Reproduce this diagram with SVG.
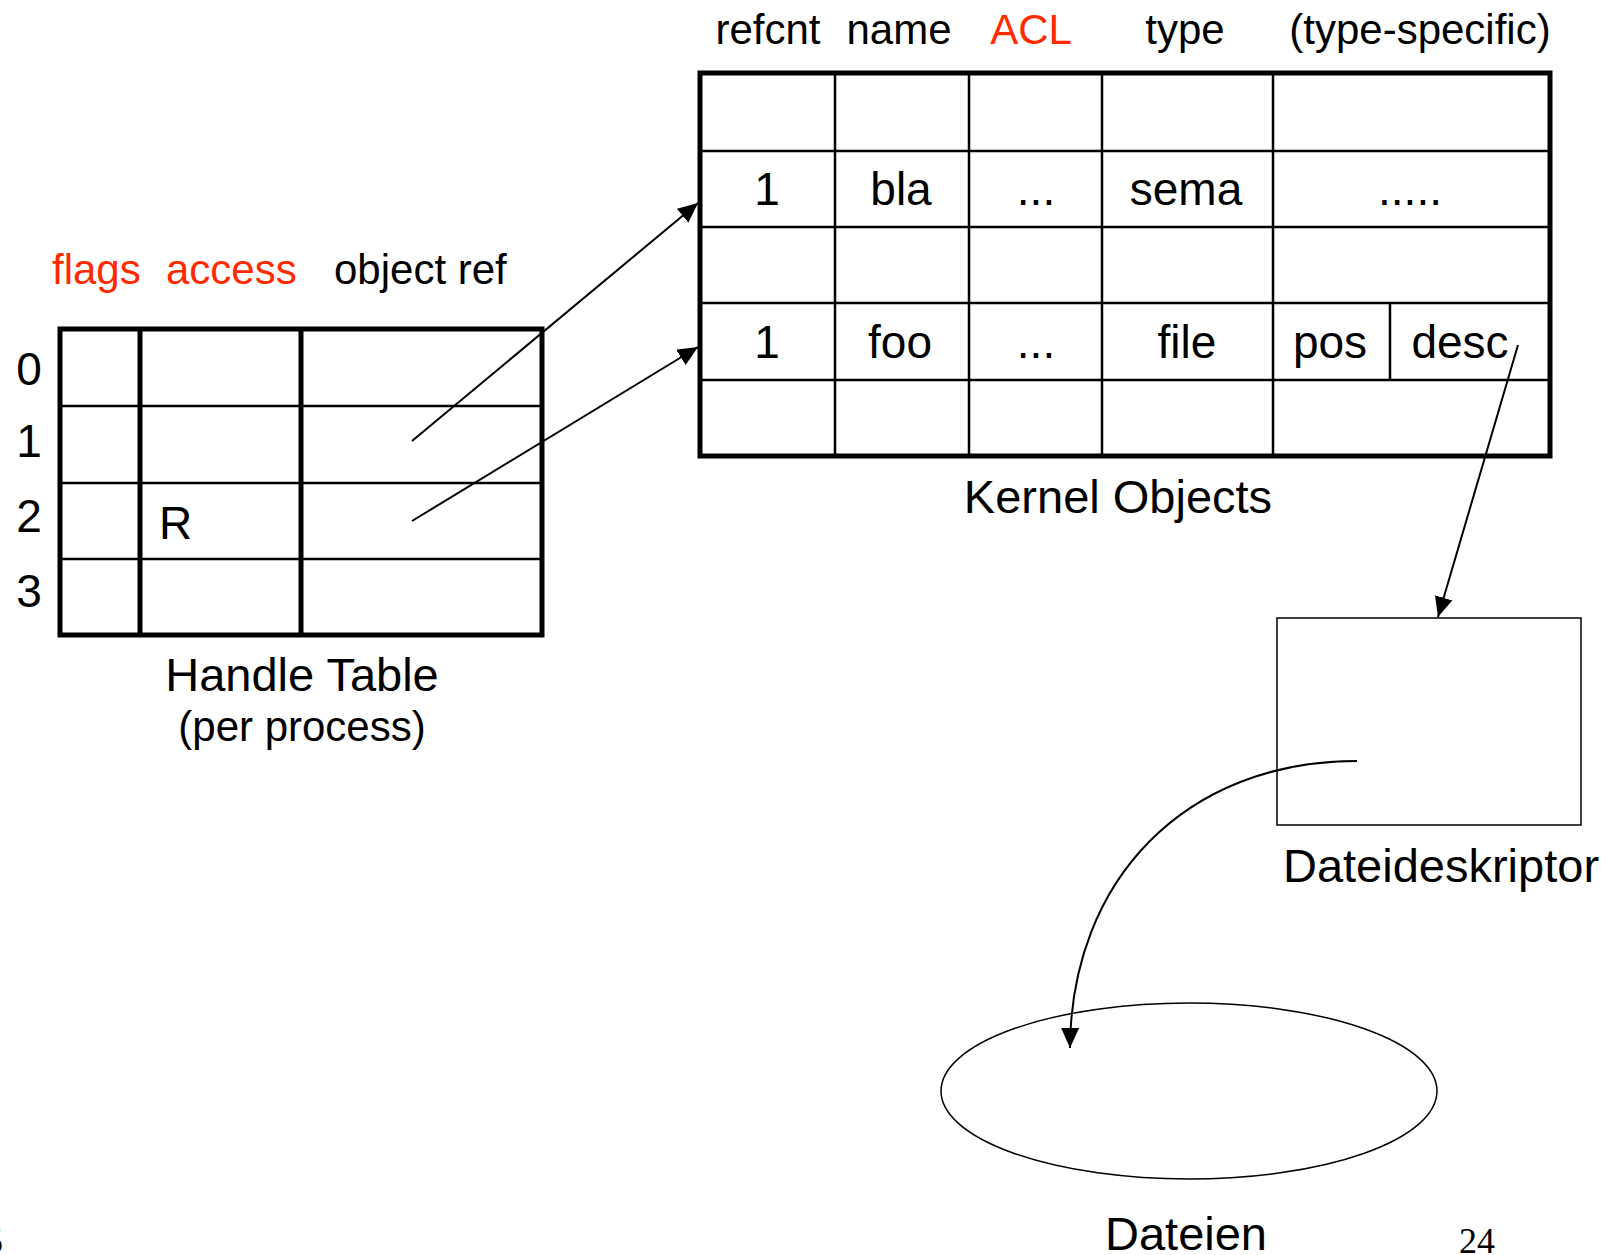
<svg xmlns="http://www.w3.org/2000/svg" width="1617" height="1255" viewBox="0 0 1617 1255">
<style>
text{font-family:"Liberation Sans",Arial,sans-serif;fill:#000}
.red{fill:#ff2a00}
.hdr{font-size:42px}
.cell{font-size:46px}
.lbl{font-size:47px}
.mid{text-anchor:middle}
.outer{fill:none;stroke:#000;stroke-width:5}
.thick{stroke:#000;stroke-width:5}
.thin{stroke:#000;stroke-width:2.5}
.conn{fill:none;stroke:#000;stroke-width:2}
.serif{font-family:"Liberation Serif","Times New Roman",serif;font-size:36px}
</style>
<defs>
<marker id="ah" viewBox="0 0 20 18" refX="20" refY="9" markerWidth="20" markerHeight="18" markerUnits="userSpaceOnUse" orient="auto">
<path d="M0,0 L20,9 L0,18 z" fill="#000"/>
</marker>
</defs>
<rect width="1617" height="1255" fill="#fff"/>

<g id="handle-table">
<text class="hdr red" x="52" y="284">flags</text>
<text class="hdr red" x="166" y="284">access</text>
<text class="hdr" x="334" y="284">object ref</text>
<line class="thin" x1="60" y1="406" x2="542" y2="406"/>
<line class="thin" x1="60" y1="483" x2="542" y2="483"/>
<line class="thin" x1="60" y1="559" x2="542" y2="559"/>
<line class="thick" x1="140" y1="329" x2="140" y2="635"/>
<line class="thick" x1="301" y1="329" x2="301" y2="635"/>
<rect class="outer" x="60" y="329" width="482" height="306"/>
<text class="cell mid" x="29" y="385">0</text>
<text class="cell mid" x="29" y="457">1</text>
<text class="cell mid" x="29" y="532">2</text>
<text class="cell mid" x="29" y="607">3</text>
<text class="cell" x="159" y="539">R</text>
<text class="lbl mid" x="302" y="691">Handle Table</text>
<text class="hdr mid" x="302" y="741">(per process)</text>
</g>

<g id="kernel-objects">
<text class="hdr mid" x="768" y="44">refcnt</text>
<text class="hdr mid" x="899" y="44">name</text>
<text class="hdr mid red" x="1031" y="44">ACL</text>
<text class="hdr mid" x="1185" y="44">type</text>
<text class="hdr mid" x="1420" y="44">(type-specific)</text>
<line class="thin" x1="700" y1="151" x2="1550" y2="151"/>
<line class="thin" x1="700" y1="227" x2="1550" y2="227"/>
<line class="thin" x1="700" y1="303" x2="1550" y2="303"/>
<line class="thin" x1="700" y1="380" x2="1550" y2="380"/>
<line class="thin" x1="835" y1="73" x2="835" y2="456"/>
<line class="thin" x1="969" y1="73" x2="969" y2="456"/>
<line class="thin" x1="1102" y1="73" x2="1102" y2="456"/>
<line class="thin" x1="1273" y1="73" x2="1273" y2="456"/>
<line class="thin" x1="1390" y1="303" x2="1390" y2="380"/>
<rect class="outer" x="700" y="73" width="850" height="383"/>
<text class="cell mid" x="767" y="205">1</text>
<text class="cell mid" x="901" y="205">bla</text>
<text class="cell mid" x="1036" y="205">...</text>
<text class="cell mid" x="1186" y="205">sema</text>
<text class="cell mid" x="1410" y="205">.....</text>
<text class="cell mid" x="767" y="358">1</text>
<text class="cell mid" x="900" y="358">foo</text>
<text class="cell mid" x="1036" y="358">...</text>
<text class="cell mid" x="1187" y="358">file</text>
<text class="cell mid" x="1330" y="358">pos</text>
<text class="cell mid" x="1460" y="358">desc</text>
<text class="lbl mid" x="1118" y="513">Kernel Objects</text>
</g>

<g id="dateideskriptor">
<rect x="1277" y="618" width="304" height="207" fill="none" stroke="#000" stroke-width="1.5"/>
<text class="lbl mid" x="1441" y="882">Dateideskriptor</text>
</g>

<g id="dateien">
<ellipse cx="1189" cy="1091" rx="248" ry="88" fill="none" stroke="#000" stroke-width="1.5"/>
<text class="lbl mid" x="1186" y="1250">Dateien</text>
</g>

<g id="connectors">
<line class="conn" x1="412" y1="441" x2="698" y2="203" marker-end="url(#ah)"/>
<line class="conn" x1="412" y1="521" x2="698" y2="347" marker-end="url(#ah)"/>
<line class="conn" x1="1518" y1="345" x2="1438" y2="617" marker-end="url(#ah)"/>
<path class="conn" d="M1357,761 C1185,761 1071,880 1070,1048" marker-end="url(#ah)"/>
</g>

<text class="serif" x="1477" y="1253" text-anchor="middle">24</text>
<text class="serif" x="-15" y="1253">5</text>
</svg>
